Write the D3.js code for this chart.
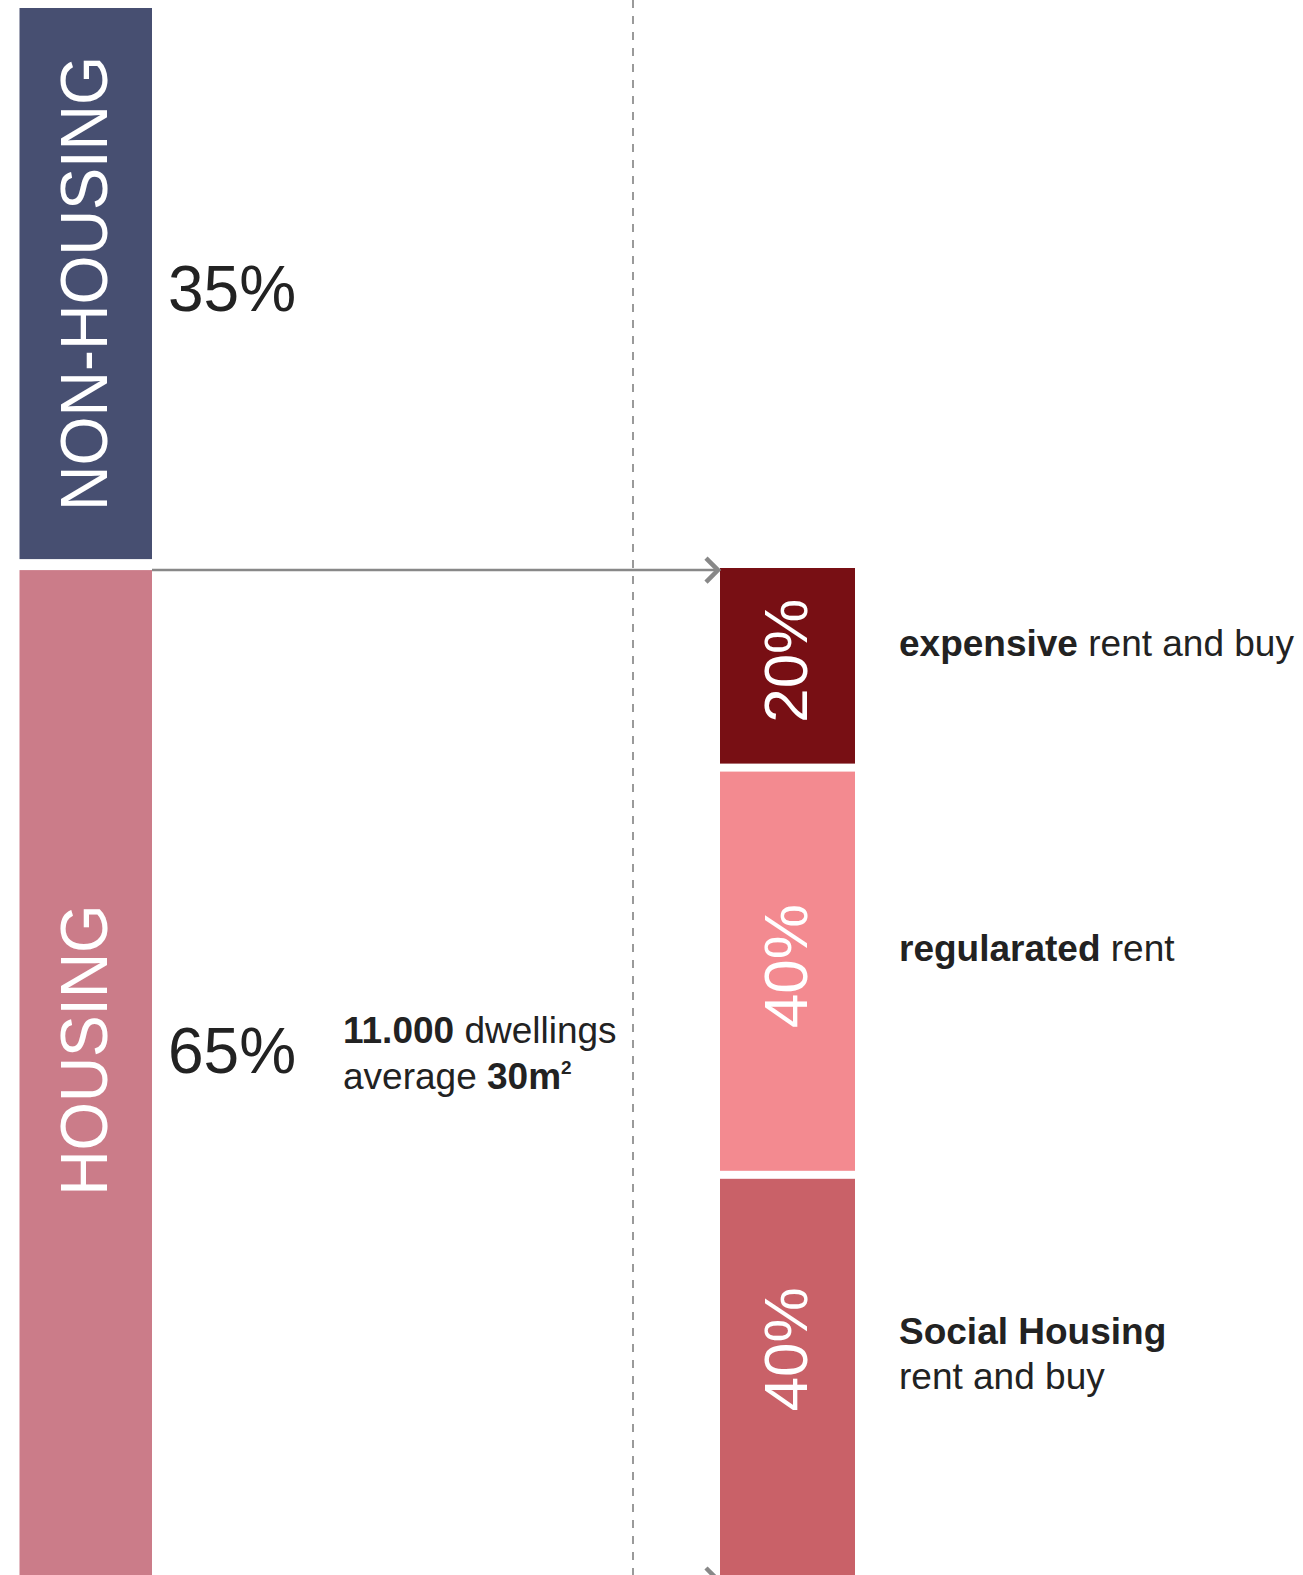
<!DOCTYPE html>
<html>
<head>
<meta charset="utf-8">
<script src="https://cdn.jsdelivr.net/npm/d3@7"></script>
<style>
  body { margin: 0; background: #fff; }
  svg { display: block; font-family: "Liberation Sans", Arial, Helvetica, sans-serif; }
</style>
</head>
<body>
<script>
// Land use split of the development
const useCategories = ["NON-HOUSING", "HOUSING"];
const useShares = [35, 65];

// Split of the housing share by tenure
const housingTypes = ["expensive", "regularated", "Social Housing"];
const housingShares = [20, 40, 40];
const housingLabelLines = [
  [[["expensive", true], [" rent and buy", false]]],
  [[["regularated", true], [" rent", false]]],
  [[["Social Housing", true]], [["rent and buy", false]]]
];

// Housing key figures
const dwellings = 11000;
const averageSize = 30; // m²

const useColors = ["#474f71", "#cb7c89"];
const housingColors = ["#780f14", "#f38a90", "#c96168"];

const W = 1303, H = 1575;
const svg = d3.select("body").append("svg").attr("width", W).attr("height", H);

// Columns
const leftCol = { x0: 19.5, x1: 152 };
const rightCol = { x0: 720, x1: 855 };
const visibleBottom = H - 45;

// Vertical scales for each stacked column
const yL = d3.scaleLinear().domain([0, 100]).range([8, 1614]);
const yR = d3.scaleLinear().domain([0, 100]).range([568, 1586]);
const gapL = 11, gapR = 8;

function stack(values, y, gap) {
  const ends = Array.from(d3.cumsum(values));
  return values.map((v, i) => {
    const start = i ? ends[i - 1] : 0;
    const y0 = y(start), y1 = y(ends[i]) - gap;
    return { value: v, start, y0, y1, c: (y0 + Math.min(y1, visibleBottom)) / 2 };
  });
}
const leftSegs = stack(useShares, yL, gapL);
const rightSegs = stack(housingShares, yR, gapR);

// Dashed divider
svg.append("line")
  .attr("x1", 633).attr("x2", 633).attr("y1", 0).attr("y2", H)
  .attr("stroke", "#9a9a9a").attr("stroke-width", 2)
  .attr("stroke-dasharray", "8,8");

// Left column bars
svg.selectAll("rect.use").data(leftSegs).join("rect")
  .attr("class", "use")
  .attr("x", leftCol.x0).attr("width", leftCol.x1 - leftCol.x0)
  .attr("y", d => d.y0).attr("height", d => d.y1 - d.y0)
  .attr("fill", (d, i) => useColors[i]);

// Category names inside the left bars
svg.selectAll("text.useName").data(leftSegs).join("text")
  .attr("class", "useName")
  .attr("transform", d => `translate(${(leftCol.x0 + leftCol.x1) / 2 + 21},${d.c}) rotate(-90)`)
  .attr("text-anchor", "middle")
  .attr("fill", "#fff").attr("font-size", 67)
  .attr("textLength", (d, i) => i === 0 ? 455 : 291)
  .attr("lengthAdjust", "spacingAndGlyphs")
  .text((d, i) => useCategories[i]);

// Share labels beside the left bars
svg.selectAll("text.useShare").data(leftSegs).join("text")
  .attr("class", "useShare")
  .attr("x", 168).attr("y", (d, i) => d.c + (i ? 23 : 27))
  .attr("fill", "#222").attr("font-size", 64)
  .text(d => `${d.value}%`);

// Housing key figures
const fmt = d3.formatLocale({ decimal: ",", thousands: ".", grouping: [3], currency: ["", "€"] }).format(",");
const housing = leftSegs[1];
const note = svg.append("g").attr("fill", "#222").attr("font-size", 37);
const l1 = note.append("text").attr("x", 343).attr("y", housing.c - 7);
l1.append("tspan").attr("font-weight", "bold").text(fmt(dwellings));
l1.append("tspan").text(" dwellings");
const l2 = note.append("text").attr("x", 343).attr("y", housing.c + 39);
l2.append("tspan").text("average ");
l2.append("tspan").attr("font-weight", "bold").text(`${averageSize}m`);
l2.append("tspan").attr("font-weight", "bold").attr("font-size", 19).attr("dy", -15).text("2");

// Right column bars
svg.selectAll("rect.tenure").data(rightSegs).join("rect")
  .attr("class", "tenure")
  .attr("x", rightCol.x0).attr("width", rightCol.x1 - rightCol.x0)
  .attr("y", d => d.y0).attr("height", d => d.y1 - d.y0)
  .attr("fill", (d, i) => housingColors[i]);

svg.selectAll("text.tenureShare").data(rightSegs).join("text")
  .attr("class", "tenureShare")
  .attr("transform", d => `translate(${(rightCol.x0 + rightCol.x1) / 2 + 19},${d.c - 5}) rotate(-90)`)
  .attr("text-anchor", "middle")
  .attr("fill", "#fff").attr("font-size", 62)
  .text(d => `${d.value}%`);

// Tenure descriptions
rightSegs.forEach((d, i) => {
  housingLabelLines[i].forEach((line, j) => {
    const t = svg.append("text")
      .attr("x", 899).attr("y", d.c - 10 + j * 45)
      .attr("fill", "#222").attr("font-size", 37);
    line.forEach(([s, bold]) => t.append("tspan").attr("font-weight", bold ? "bold" : "normal").text(s));
  });
});

// Arrows linking housing share to its breakdown
const arrowYs = [yL(useShares[0]), yR(100) - 6];
const arrows = svg.append("g").attr("stroke", "#888").attr("fill", "none");
arrowYs.forEach(y => {
  arrows.append("line")
    .attr("x1", leftCol.x1).attr("x2", rightCol.x0 - 2)
    .attr("y1", y).attr("y2", y).attr("stroke-width", 2.5);
  arrows.append("path")
    .attr("d", d3.line()([[rightCol.x0 - 14, y - 12], [rightCol.x0 - 2, y], [rightCol.x0 - 14, y + 12]]))
    .attr("stroke-width", 4.5);
});
</script>
</body>
</html>
